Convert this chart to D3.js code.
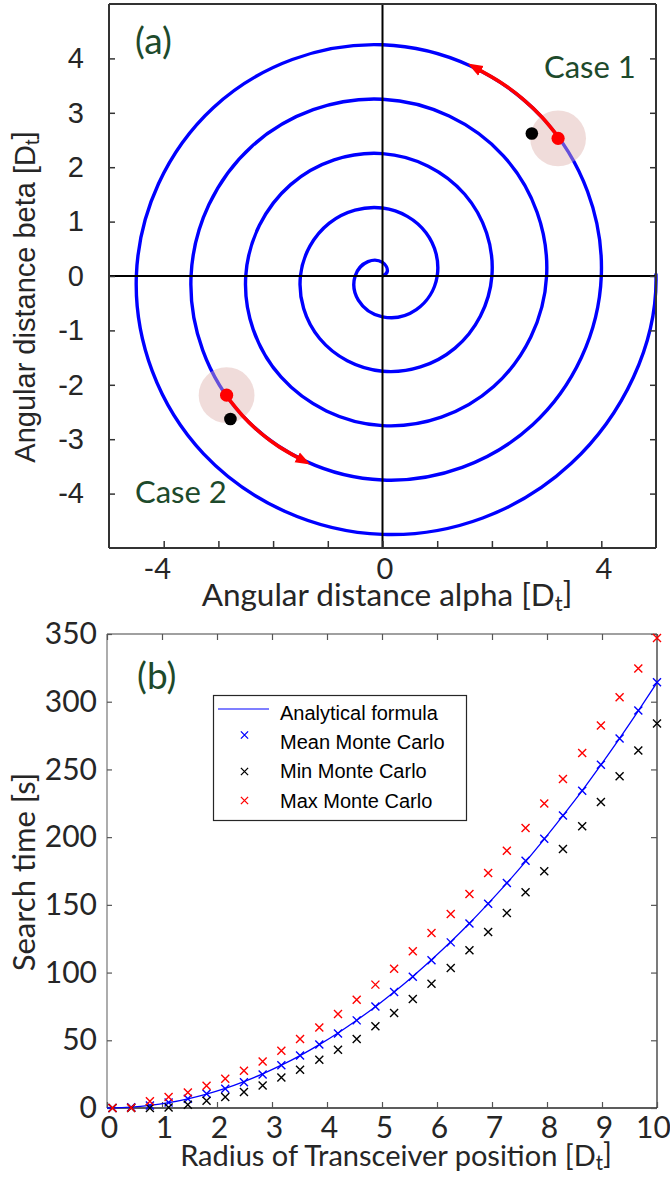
<!DOCTYPE html>
<html>
<head>
<meta charset="utf-8">
<script src="https://cdn.jsdelivr.net/npm/d3@7"></script>
<style>
  body { margin: 0; background: #fff; }
  svg { display: block; }
</style>
</head>
<body>
<div id="chart"></div>
<script>
// ---------- panel (a): spiral search ----------
// spiral radius every 1/8 turn, starting at the origin (read from the axis crossings).
// the spiral stops at r = 5; the extra last value only steers the spline's end
const spiralStepDeg = 45;
const spiralR = [
  0, 0.125, 0.25, 0.375, 0.5, 0.625, 0.75, 0.875,
  1, 1.125, 1.25, 1.375, 1.5, 1.625, 1.75, 1.875,
  2, 2.125, 2.25, 2.375, 2.5, 2.625, 2.75, 2.875,
  3, 3.125, 3.25, 3.375, 3.5, 3.625, 3.75, 3.875,
  4, 4.125, 4.25, 4.375, 4.5, 4.625, 4.75, 4.875,
  5, 5.125
];
const spiralEndIndex = 40;
// red arrows along the spiral [alpha, beta]
const case1Path = [[3.235, 2.528], [2.917, 2.917], [2.552, 3.266], [2.175, 3.549], [1.767, 3.789]];
const case2Path = [[-2.860, -2.194], [-2.563, -2.563], [-2.220, -2.893], [-1.887, -3.141], [-1.527, -3.351]];
// red = current position, black = transceiver
const redDots = [[3.21, 2.53], [-2.85, -2.19]];
const blackDots = [[2.73, 2.62], [-2.78, -2.63]];
const beamRadius = 0.51;
const caseLabels = ["Case 1", "Case 2"];
const aTicks = [-4, -3, -2, -1, 0, 1, 2, 3, 4];
const aXLabels = [-4, 0, 4];

// ---------- panel (b): search time ----------
const radius = [0.1, 0.44, 0.78, 1.12, 1.47, 1.81, 2.15, 2.49, 2.83, 3.17,
  3.51, 3.86, 4.2, 4.54, 4.88, 5.22, 5.56, 5.9, 6.25, 6.59,
  6.93, 7.27, 7.61, 7.95, 8.29, 8.64, 8.98, 9.32, 9.66, 10];
const meanMC = [0, 0.6, 1.9, 4.1, 6.9, 10.5, 14.2, 19.0, 24.8, 31.5,
  38.7, 46.8, 55.0, 64.7, 75.0, 85.7, 97.0, 109.1, 122.3, 136.3,
  150.9, 166.2, 182.5, 198.8, 215.9, 234.3, 253.5, 272.8, 293.6, 314.3];
const minMC = [0, 0, 0, 0.4, 2.4, 5.4, 8.1, 11.8, 16.7, 22.6,
  28.3, 35.7, 43.1, 51.0, 60.3, 70.2, 80.5, 91.8, 103.4, 116.4,
  130.0, 144.0, 159.3, 174.8, 191.3, 208.0, 226.0, 244.9, 263.9, 283.9];
const maxMC = [0, 0.2, 4.9, 8.1, 11.5, 16.5, 21.6, 27.5, 34.4, 42.3,
  51.0, 59.5, 69.4, 80.0, 91.1, 102.9, 115.7, 129.3, 143.3, 158.1,
  173.6, 190.0, 206.8, 224.8, 243.0, 262.2, 282.4, 303.3, 324.5, 347.1];
const analyticR = [0, 0.1, 0.44, 0.78, 1.12, 1.47, 1.81, 2.15, 2.49, 2.83, 3.17,
  3.51, 3.86, 4.2, 4.54, 4.88, 5.22, 5.56, 5.9, 6.25, 6.59,
  6.93, 7.27, 7.61, 7.95, 8.29, 8.64, 8.98, 9.32, 9.66, 10];
const analyticT = [0, 0.03, 0.6, 1.9, 3.9, 6.8, 10.3, 14.5, 19.5, 25.2, 31.6,
  38.7, 46.8, 55.4, 64.8, 74.8, 85.6, 97.1, 109.4, 122.7, 136.4,
  150.9, 166.0, 181.9, 198.6, 215.9, 234.3, 253.3, 272.9, 293.2, 314.2];
const bXTicks = [0, 1, 2, 3, 4, 5, 6, 7, 8, 9, 10];
const bYTicks = [0, 50, 100, 150, 200, 250, 300, 350];
const legendNames = ["Analytical formula", "Mean Monte Carlo", "Min Monte Carlo", "Max Monte Carlo"];
const seriesColors = ["#0000ff", "#0000ff", "#000000", "#ff0000"];

const W = 670, H = 1177;
const CAL = "Lato, 'Open Sans', sans-serif";   // stand-in for Calibri
const ARIAL = "'Liberation Sans', Arial, sans-serif";
const TXT = "#262626";
const GREEN = "#1d4a2b";

const svg = d3.select("#chart").append("svg")
  .attr("width", W).attr("height", H);
const defs = svg.append("defs");

// subscript label helper: "prefix [D_t]"
function subLabel(sel, prefix) {
  sel.append("tspan").text(prefix + " [D");
  sel.append("tspan").text("t").attr("dy", "0.22em").style("font-size", "0.7em");
  sel.append("tspan").text("]").attr("dy", "-0.22em");
}

// ================= panel (a) =================
const xA = d3.scaleLinear().domain([-5, 5]).range([109, 656]);
const yA = d3.scaleLinear().domain([-5, 5]).range([548, 4]);
const gA = svg.append("g");

const spiralPts = spiralR.map((r, i) => {
  const t = i * spiralStepDeg * Math.PI / 180;
  return [r * Math.cos(t), r * Math.sin(t)];
});

const spiral = gA.append("path")
  .datum(spiralPts)
  .attr("d", d3.line().x(d => xA(d[0])).y(d => yA(d[1])).curve(d3.curveNatural))
  .attr("fill", "none")
  .attr("stroke", "#0000ff")
  .attr("stroke-width", 3.4);

// cut the drawn stroke where the spiral reaches its last point (r = 5)
{
  const node = spiral.node();
  const total = node.getTotalLength();
  const tx = xA(spiralPts[spiralEndIndex][0]), ty = yA(spiralPts[spiralEndIndex][1]);
  let best = total, bestD = Infinity;
  for (let L = Math.max(0, total - 400); L <= total; L += 0.25) {
    const p = node.getPointAtLength(L);
    const dd = (p.x - tx) ** 2 + (p.y - ty) ** 2;
    if (dd < bestD) { bestD = dd; best = L; }
  }
  spiral.attr("stroke-dasharray", `${best} ${total}`);
}

// crosshair
gA.append("line")
  .attr("x1", xA(-5)).attr("x2", xA(5))
  .attr("y1", yA(0)).attr("y2", yA(0))
  .attr("stroke", "#000").attr("stroke-width", 2);
gA.append("line")
  .attr("x1", xA(0)).attr("x2", xA(0))
  .attr("y1", yA(-5)).attr("y2", yA(5))
  .attr("stroke", "#000").attr("stroke-width", 2);

// beam footprint
gA.selectAll("circle.beam")
  .data(redDots)
  .join("circle")
  .attr("class", "beam")
  .attr("cx", d => xA(d[0]))
  .attr("cy", d => yA(d[1]))
  .attr("r", xA(beamRadius) - xA(0))
  .attr("fill", "#deb1ad")
  .attr("fill-opacity", 0.45);

// arrow head
defs.append("marker")
  .attr("id", "arrowRed")
  .attr("viewBox", "0 -6 16 12")
  .attr("refX", 2).attr("refY", 0)
  .attr("markerWidth", 16).attr("markerHeight", 12)
  .attr("markerUnits", "userSpaceOnUse")
  .attr("orient", "auto")
  .append("path")
  .attr("d", "M0,-5.5L15,0L0,5.5Z")
  .attr("fill", "#ff0000");

gA.selectAll("path.move")
  .data([case1Path, case2Path])
  .join("path")
  .attr("class", "move")
  .attr("d", d3.line().x(d => xA(d[0])).y(d => yA(d[1])).curve(d3.curveNatural))
  .attr("fill", "none")
  .attr("stroke", "#ff0000")
  .attr("stroke-width", 3.6)
  .attr("marker-end", "url(#arrowRed)");

gA.selectAll("circle.red")
  .data(redDots)
  .join("circle")
  .attr("class", "red")
  .attr("cx", d => xA(d[0])).attr("cy", d => yA(d[1]))
  .attr("r", 6.6).attr("fill", "#ff0000");

gA.selectAll("circle.black")
  .data(blackDots)
  .join("circle")
  .attr("class", "black")
  .attr("cx", d => xA(d[0])).attr("cy", d => yA(d[1]))
  .attr("r", 6.3).attr("fill", "#000");

// frame + inward ticks
function frame(g, x, y, leftCol, topCol, rightCol, bottomCol, w) {
  const [x0, x1] = x.range(), [y0, y1] = y.range();
  g.append("line").attr("x1", x0).attr("x2", x0).attr("y1", y0).attr("y2", y1).attr("stroke", leftCol).attr("stroke-width", w);
  g.append("line").attr("x1", x0).attr("x2", x1).attr("y1", y1).attr("y2", y1).attr("stroke", topCol).attr("stroke-width", w);
  g.append("line").attr("x1", x1).attr("x2", x1).attr("y1", y0).attr("y2", y1).attr("stroke", rightCol).attr("stroke-width", w);
  g.append("line").attr("x1", x0).attr("x2", x1).attr("y1", y0).attr("y2", y0).attr("stroke", bottomCol).attr("stroke-width", w);
}
frame(gA, xA, yA, "#333", "#333", "#333", "#333", 2);

const axLeftA = gA.append("g")
  .attr("transform", `translate(${xA(-5)},0)`)
  .call(d3.axisLeft(yA).tickValues(aTicks).tickSize(-6).tickSizeOuter(0).tickPadding(25).tickFormat(d => String(d)));
const axRightA = gA.append("g")
  .attr("transform", `translate(${xA(5)},0)`)
  .call(d3.axisRight(yA).tickValues(aTicks).tickSize(-6).tickSizeOuter(0).tickFormat(""));
const axBottomA = gA.append("g")
  .attr("transform", `translate(0,${yA(-5)})`)
  .call(d3.axisBottom(xA).tickValues(aTicks).tickSize(-7).tickSizeOuter(0).tickPadding(10)
    .tickFormat(d => aXLabels.includes(d) ? String(d) : ""));
[axLeftA, axRightA, axBottomA].forEach(a => {
  a.select(".domain").remove();
  a.selectAll(".tick line").attr("stroke", "#333").attr("stroke-width", 1.5);
});
axLeftA.selectAll("text").style("font-family", ARIAL).style("font-size", "29px").attr("fill", TXT);
axBottomA.selectAll("text").style("font-family", CAL).style("font-size", "29px").attr("fill", TXT)
  .attr("dx", d => d < 0 ? -7 : 2);

gA.append("text")
  .attr("transform", "translate(35,297) rotate(-90)")
  .attr("text-anchor", "middle")
  .style("font-family", ARIAL).style("font-size", "29px").attr("fill", TXT)
  .call(subLabel, "Angular distance beta");
gA.append("text")
  .attr("x", 387).attr("y", 606)
  .attr("text-anchor", "middle")
  .style("font-family", CAL).style("font-size", "31.5px").attr("fill", TXT)
  .call(subLabel, "Angular distance alpha");

gA.append("text").attr("x", 135).attr("y", 54).text("(a)")
  .style("font-family", CAL).style("font-size", "37px").attr("fill", GREEN);
gA.append("text").attr("x", 544).attr("y", 78).text(caseLabels[0])
  .style("font-family", CAL).style("font-size", "31px").attr("fill", GREEN);
gA.append("text").attr("x", 135).attr("y", 503).text(caseLabels[1])
  .style("font-family", CAL).style("font-size", "31px").attr("fill", GREEN);

// ================= panel (b) =================
const xB = d3.scaleLinear().domain([0, 10]).range([107, 657]);
const yB = d3.scaleLinear().domain([0, 350]).range([1108, 634]);
const gB = svg.append("g");

frame(gB, xB, yB, "#808080", "#808080", "#333", "#262626", 1.3);

const axLeftB = gB.append("g")
  .attr("transform", `translate(${xB(0)},0)`)
  .call(d3.axisLeft(yB).tickValues(bYTicks).tickSize(-5).tickSizeOuter(0).tickPadding(10).tickFormat(d => String(d)));
const axRightB = gB.append("g")
  .attr("transform", `translate(${xB(10)},0)`)
  .call(d3.axisRight(yB).tickValues(bYTicks).tickSize(-6).tickSizeOuter(0).tickFormat(""));
const axBottomB = gB.append("g")
  .attr("transform", `translate(0,${yB(0)})`)
  .call(d3.axisBottom(xB).tickValues(bXTicks).tickSize(-6).tickSizeOuter(0).tickPadding(9).tickFormat(d => String(d)));
const axTopB = gB.append("g")
  .attr("transform", `translate(0,${yB(350)})`)
  .call(d3.axisTop(xB).tickValues(bXTicks).tickSize(-6).tickSizeOuter(0).tickFormat(""));
[axLeftB, axRightB, axBottomB, axTopB].forEach(a => {
  a.select(".domain").remove();
  a.selectAll(".tick line").attr("stroke", "#555").attr("stroke-width", 1.2);
});
[axLeftB, axBottomB].forEach(a =>
  a.selectAll("text").style("font-family", CAL).style("font-size", "30px").attr("fill", TXT));
axBottomB.selectAll("text").attr("dx", d => d === 10 ? -4 : 2);

// analytical curve
gB.append("path")
  .datum(analyticR.map((r, i) => [r, analyticT[i]]))
  .attr("d", d3.line().x(d => xB(d[0])).y(d => yB(d[1])).curve(d3.curveMonotoneX))
  .attr("fill", "none")
  .attr("stroke", "#0000ff")
  .attr("stroke-width", 1.3);

const cross = "M-4,-4L4,4M-4,4L4,-4";
[meanMC, minMC, maxMC].forEach((vals, k) => {
  gB.append("g").selectAll("path")
    .data(radius.map((r, i) => [r, vals[i]]))
    .join("path")
    .attr("transform", d => `translate(${xB(d[0])},${yB(d[1])})`)
    .attr("d", cross)
    .attr("fill", "none")
    .attr("stroke", seriesColors[k + 1])
    .attr("stroke-width", 1.4);
});

// legend
const leg = gB.append("g");
leg.append("rect")
  .attr("x", 213.5).attr("y", 695.5).attr("width", 253).attr("height", 125)
  .attr("fill", "#fff").attr("stroke", "#262626").attr("stroke-width", 1.2);
const legTextY = [720, 749, 778, 807.5];
const legMarkY = [709, 735, 771.5, 800.5];
leg.append("line")
  .attr("x1", 218).attr("x2", 269).attr("y1", legMarkY[0]).attr("y2", legMarkY[0])
  .attr("stroke", "#0000ff").attr("stroke-width", 1.2);
leg.selectAll("path")
  .data([1, 2, 3])
  .join("path")
  .attr("transform", k => `translate(244.5,${legMarkY[k]})`)
  .attr("d", "M-3.6,-3.6L3.6,3.6M-3.6,3.6L3.6,-3.6")
  .attr("fill", "none")
  .attr("stroke", k => seriesColors[k])
  .attr("stroke-width", 1.3);
leg.selectAll("text")
  .data(legendNames)
  .join("text")
  .attr("x", 280).attr("y", (d, i) => legTextY[i])
  .text(d => d)
  .style("font-family", ARIAL).style("font-size", "20px").attr("fill", "#000");

gB.append("text")
  .attr("transform", "translate(35,872) rotate(-90)")
  .attr("text-anchor", "middle")
  .style("font-family", CAL).style("font-size", "31px").attr("fill", TXT)
  .text("Search time [s]");
gB.append("text")
  .attr("x", 396).attr("y", 1166)
  .attr("text-anchor", "middle")
  .style("font-family", CAL).style("font-size", "29px").attr("fill", TXT)
  .call(subLabel, "Radius of Transceiver position");

gB.append("text").attr("x", 137).attr("y", 689).text("(b)")
  .style("font-family", CAL).style("font-size", "37px").attr("fill", GREEN);
</script>
</body>
</html>
